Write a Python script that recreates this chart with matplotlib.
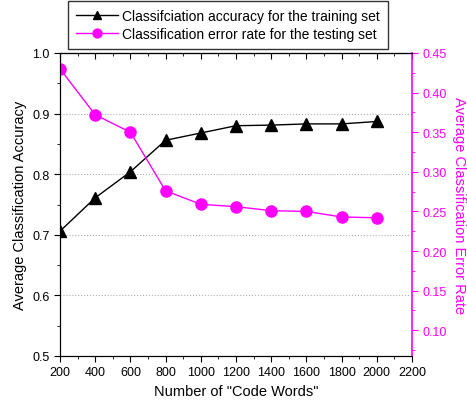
import matplotlib
matplotlib.use("Agg")
import matplotlib.pyplot as plt
from matplotlib.ticker import MultipleLocator

plt.rcParams["font.family"] = ["Liberation Sans", "DejaVu Sans"]

# data
code_words = [200, 400, 600, 800, 1000, 1200, 1400, 1600, 1800, 2000]
train_acc = [0.706, 0.761, 0.804, 0.856, 0.868, 0.880, 0.881, 0.883, 0.883, 0.887]
test_err = [0.430, 0.372, 0.350, 0.276, 0.259, 0.256, 0.251, 0.250, 0.243, 0.242]

magenta = "#ff00ff"

fig = plt.figure(figsize=(4.67, 4.06), dpi=100)
ax = fig.add_axes([60 / 467, 1 - 357 / 406, 352 / 467, 303 / 406])
ax2 = ax.twinx()

l1, = ax.plot(code_words, train_acc, color="black", lw=1, marker="^", ms=8,
              label="Classifciation accuracy for the training set")
l2, = ax2.plot(code_words, test_err, color=magenta, lw=1, marker="o", ms=8,
               label="Classification error rate for the testing set")

ax.set_xlim(200, 2200)
ax.set_ylim(0.5, 1.0)
ax2.set_ylim(0.0675, 0.45)

ax.xaxis.set_major_locator(MultipleLocator(200))
ax.xaxis.set_minor_locator(MultipleLocator(100))
ax.yaxis.set_major_locator(MultipleLocator(0.1))
ax.yaxis.set_minor_locator(MultipleLocator(0.05))
ax2.yaxis.set_major_locator(MultipleLocator(0.05))
ax2.yaxis.set_minor_locator(MultipleLocator(0.025))
ax2.yaxis.set_major_formatter(plt.FormatStrFormatter("%.2f"))

ax.grid(axis="y", which="major", color="#b0b0b0", ls=":", lw=0.8)

ax.tick_params(axis="both", which="both", direction="out", labelsize=9)
ax.tick_params(which="major", length=4)
ax.tick_params(which="minor", length=2.5)

# top spine ticks point inward
top = ax.secondary_xaxis("top")
top.xaxis.set_major_locator(MultipleLocator(200))
top.xaxis.set_minor_locator(MultipleLocator(100))
top.tick_params(which="both", direction="in", labeltop=False)
top.tick_params(which="major", length=4)
top.tick_params(which="minor", length=2.5)

ax2.tick_params(axis="y", which="both", colors=magenta, labelcolor=magenta, labelsize=9)
ax2.tick_params(which="major", length=4)
ax2.tick_params(which="minor", length=2.5)
ax2.spines["right"].set_color(magenta)
ax2.spines["right"].set_linewidth(1.2)
ax.spines["right"].set_visible(False)

ax.set_xlabel('Number of "Code Words"', fontsize=10.5)
ax.set_ylabel("Average Classification Accuracy", fontsize=10.5)
ax2.set_ylabel("Average Classification Error Rate", fontsize=10.5, color=magenta,
               rotation=270, labelpad=14)

leg = fig.legend(handles=[l1, l2], loc="upper center", bbox_to_anchor=(228 / 467, 1 - 2 / 406),
                 frameon=True, fancybox=False, edgecolor="black", fontsize=10,
                 handlelength=3.0, borderpad=0.6, labelspacing=0.25, markerscale=0.8,
                 handletextpad=0.3, borderaxespad=0)
leg.get_frame().set_linewidth(1)

fig.savefig("out.png", dpi=100)
